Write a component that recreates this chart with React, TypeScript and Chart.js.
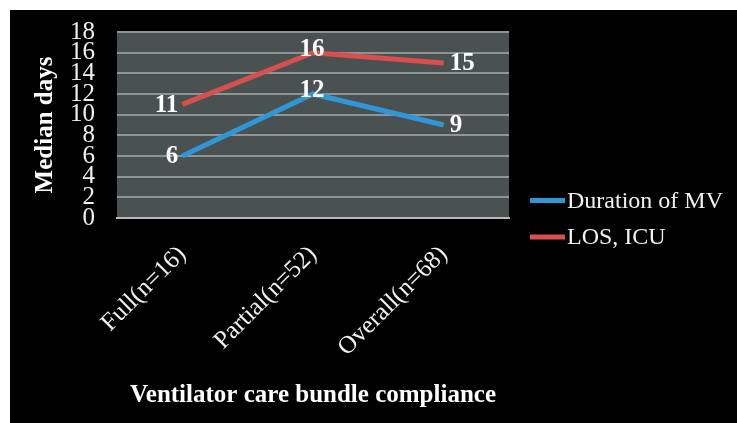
import React, { useEffect, useRef } from 'react';
import { Chart, registerables } from 'chart.js';

Chart.register(...registerables);

// ---- data ----
const categories = ['Full(n=16)', 'Partial(n=52)', 'Overall(n=68)'];
const durationOfMV = [6, 12, 9];
const losICU = [11, 16, 15];
const seriesLabels = ['Duration of MV', 'LOS, ICU'];
const yMin = 0;
const yMax = 18;
const yStep = 2;
const xTitle = 'Ventilator care bundle compliance';
const yTitle = 'Median days';

// ---- styles ----
const SERIF = '"Liberation Serif", "Times New Roman", Times, serif';
const seriesColors = ['#2f97d7', '#d84f4e'];
const labelSide = ['left', 'top', 'right'];

const plotBackground = {
  id: 'plotBackground',
  beforeDraw(chart: any) {
    const { ctx, chartArea } = chart;
    if (!chartArea) return;
    ctx.save();
    ctx.fillStyle = '#4a5151';
    ctx.fillRect(chartArea.left, chartArea.top, chartArea.width, chartArea.height);
    ctx.restore();
  },
};

const valueLabels = {
  id: 'valueLabels',
  afterDatasetsDraw(chart: any) {
    const { ctx } = chart;
    ctx.save();
    ctx.font = `bold 25px ${SERIF}`;
    ctx.fillStyle = '#ffffff';
    chart.data.datasets.forEach((ds: any, di: number) => {
      const meta = chart.getDatasetMeta(di);
      meta.data.forEach((pt: any, i: number) => {
        const text = String(ds.data[i]);
        const side = labelSide[i];
        if (side === 'left') {
          ctx.textAlign = 'right';
          ctx.textBaseline = 'middle';
          ctx.fillText(text, pt.x - 4, pt.y + 1);
        } else if (side === 'top') {
          ctx.textAlign = 'center';
          ctx.textBaseline = 'alphabetic';
          ctx.fillText(text, pt.x - 1, pt.y + 3);
        } else {
          ctx.textAlign = 'left';
          ctx.textBaseline = 'middle';
          ctx.fillText(text, pt.x + 6, pt.y + 1);
        }
      });
    });
    ctx.restore();
  },
};

const sideLegend = {
  id: 'sideLegend',
  afterDraw(chart: any) {
    const { ctx, chartArea } = chart;
    const x0 = chartArea.right + 21;
    const yStart = chart.height / 2 - 16;
    ctx.save();
    chart.data.datasets.forEach((ds: any, i: number) => {
      const y = yStart + i * 36.5;
      ctx.strokeStyle = ds.borderColor;
      ctx.lineWidth = 5;
      ctx.lineCap = 'butt';
      ctx.beginPath();
      ctx.moveTo(x0, y);
      ctx.lineTo(x0 + 35, y);
      ctx.stroke();
      ctx.font = `24px ${SERIF}`;
      ctx.fillStyle = '#f2f2f2';
      ctx.textAlign = 'left';
      ctx.textBaseline = 'middle';
      ctx.fillText(ds.label, x0 + 37, y + 1);
    });
    ctx.restore();
  },
};

function LineChart() {
  const ref = useRef<HTMLCanvasElement | null>(null);
  useEffect(() => {
    if (!ref.current) return;
    const chart = new Chart(ref.current, {
      type: 'line',
      data: {
        labels: categories,
        datasets: [
          {
            label: seriesLabels[0],
            data: durationOfMV,
            borderColor: seriesColors[0],
            backgroundColor: seriesColors[0],
            borderWidth: 5,
            pointRadius: 0,
            pointHoverRadius: 0,
            tension: 0,
          },
          {
            label: seriesLabels[1],
            data: losICU,
            borderColor: seriesColors[1],
            backgroundColor: seriesColors[1],
            borderWidth: 5,
            pointRadius: 0,
            pointHoverRadius: 0,
            tension: 0,
          },
        ],
      },
      options: {
        responsive: false,
        animation: false,
        devicePixelRatio: 1,
        layout: { padding: { left: 0, top: 22, right: 228, bottom: 0 } },
        plugins: {
          legend: { display: false },
          tooltip: { enabled: false },
        },
        scales: {
          x: {
            type: 'category',
            offset: true,
            grid: { display: false, drawTicks: false },
            border: { display: true, color: '#b5baba', width: 2 },
            ticks: {
              color: '#f0f0f0',
              font: { family: SERIF, size: 25 },
              minRotation: 45,
              maxRotation: 45,
              padding: 22,
              autoSkip: false,
            },
            title: {
              display: true,
              text: xTitle,
              color: '#ffffff',
              font: { family: SERIF, size: 25, weight: 'bold' },
              padding: { top: 0, bottom: 12 },
            },
            afterFit(scale: any) {
              scale.height = 205;
            },
          },
          y: {
            min: yMin,
            max: yMax,
            ticks: {
              stepSize: yStep,
              autoSkip: false,
              color: '#f0f0f0',
              font: { family: SERIF, size: 25 },
              padding: 0,
            },
            grid: {
              color: '#8e9595',
              lineWidth: 2,
              drawTicks: true,
              tickLength: 22,
              tickColor: 'rgba(0,0,0,0)',
            },
            border: { display: false },
            title: {
              display: true,
              text: yTitle,
              color: '#ffffff',
              font: { family: SERIF, size: 25, weight: 'bold' },
              padding: { top: 21, bottom: 0 },
            },
            afterFit(scale: any) {
              scale.width = 107;
            },
          },
        },
      },
      plugins: [plotBackground, valueLabels, sideLegend],
    } as any);
    return () => chart.destroy();
  }, []);
  return <canvas ref={ref} width={727} height={413} style={{ display: 'block' }} />;
}

export default function App() {
  return (
    <div
      style={{
        position: 'fixed',
        left: 10,
        top: 10,
        right: 0,
        bottom: 0,
        overflow: 'hidden',
        background: '#000000',
      }}
    >
      <LineChart />
    </div>
  );
}
